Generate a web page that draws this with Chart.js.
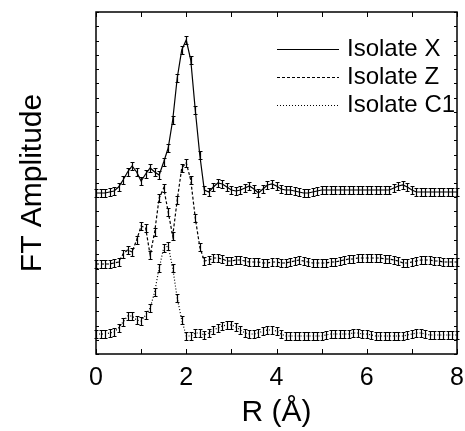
<!DOCTYPE html>
<html>
<head>
<meta charset="utf-8">
<script src="https://cdn.jsdelivr.net/npm/chart.js@4.4.0/dist/chart.umd.min.js"></script>
<style>
body { margin: 0; background: #fff; }
</style>
</head>
<body>
<canvas id="ftChart" width="465" height="431"></canvas>
<script>
// R grid (Å)
const rValues = [
    0.0, 0.1, 0.2, 0.3, 0.4, 0.5, 0.6, 0.7, 0.8, 0.9,
    1.0, 1.1, 1.2, 1.3, 1.4, 1.5, 1.6, 1.7, 1.8, 1.9,
    2.0, 2.1, 2.2, 2.3, 2.4, 2.5, 2.6, 2.7, 2.8, 2.9,
    3.0, 3.1, 3.2, 3.3, 3.4, 3.5, 3.6, 3.7, 3.8, 3.9,
    4.0, 4.1, 4.2, 4.3, 4.4, 4.5, 4.6, 4.7, 4.8, 4.9,
    5.0, 5.1, 5.2, 5.3, 5.4, 5.5, 5.6, 5.7, 5.8, 5.9,
    6.0, 6.1, 6.2, 6.3, 6.4, 6.5, 6.6, 6.7, 6.8, 6.9,
    7.0, 7.1, 7.2, 7.3, 7.4, 7.5, 7.6, 7.7, 7.8, 7.9,
    8.0
];

// FT amplitude (arbitrary units, curves stacked with offsets)
const isolateX = [
    161, 161, 161, 162, 163, 167, 174, 182, 188, 182,
    173, 180, 186, 182, 179, 192, 206, 234, 276, 304,
    314, 294, 244, 199, 164, 162, 167, 171, 170, 167,
    164, 163, 164, 166, 168, 165, 161, 165, 169, 170,
    168, 165, 164, 164, 163, 162, 161, 161, 162, 163,
    164, 164, 164, 164, 164, 164, 164, 164, 164, 164,
    164, 164, 164, 164, 164, 164, 166, 168, 169, 167,
    164, 162, 162, 162, 162, 162, 162, 162, 162, 162,
    162
];
const isolateZ = [
    90, 90, 90, 90, 91, 92, 100, 104, 102, 114,
    128, 126, 99, 122, 156, 166, 142, 118, 154, 186,
    191, 174, 136, 107, 93, 94, 96, 96, 95, 93,
    93, 94, 94, 93, 92, 92, 92, 91, 91, 92,
    92, 91, 91, 92, 93, 94, 93, 92, 91, 91,
    91, 91, 92, 92, 93, 94, 95, 95, 96, 96,
    96, 96, 96, 96, 95, 95, 94, 93, 91, 91,
    92, 93, 94, 94, 94, 93, 93, 92, 92, 92,
    92
];
const isolateC1 = [
    20, 20, 20, 21, 22, 26, 32, 38, 38, 34,
    33, 39, 46, 62, 86, 106, 108, 86, 56, 34,
    18, 18, 21, 21, 19, 21, 24, 26, 28, 29,
    29, 27, 24, 21, 20, 20, 21, 23, 24, 24,
    23, 20, 18, 18, 18, 18, 18, 18, 18, 18,
    18, 19, 20, 20, 20, 20, 20, 21, 21, 20,
    20, 19, 18, 18, 18, 18, 18, 18, 18, 19,
    20, 21, 21, 20, 19, 19, 19, 19, 19, 19,
    19
];
const seriesErrors = [4, 4, 4];
const seriesNames = ['Isolate X', 'Isolate Z', 'Isolate C1'];
const xLabelTicks = [0, 2, 4, 6, 8];

const FONT = "'Liberation Sans', Arial, sans-serif";
Chart.defaults.font.family = FONT;
Chart.defaults.color = '#000';

function toPoints(values) {
    return rValues.map((r, i) => ({ x: r, y: values[i] }));
}

// error bars drawn from the data through the y scale
const errorBars = {
    id: 'errorBars',
    afterDatasetsDraw(chart) {
        const ctx = chart.ctx;
        const y = chart.scales.y;
        ctx.save();
        ctx.strokeStyle = '#000';
        ctx.lineWidth = 1.2;
        ctx.setLineDash([]);
        chart.data.datasets.forEach((ds, i) => {
            const meta = chart.getDatasetMeta(i);
            const err = seriesErrors[i];
            ctx.beginPath();
            meta.data.forEach((pt, j) => {
                const v = ds.data[j].y;
                const top = Math.round(y.getPixelForValue(v + err)) + 0.5;
                const bot = Math.round(y.getPixelForValue(v - err)) + 0.5;
                const px = Math.round(pt.x) + 0.5;
                ctx.moveTo(px, top);
                ctx.lineTo(px, bot);
                ctx.moveTo(px - 2, top);
                ctx.lineTo(px + 2, top);
                ctx.moveTo(px - 2, bot);
                ctx.lineTo(px + 2, bot);
            });
            ctx.stroke();
        });
        ctx.restore();
    }
};

// box frame with inward ticks on all four sides
const frameTicks = {
    id: 'frameTicks',
    afterDraw(chart) {
        const { ctx, chartArea: a, scales: { x, y } } = chart;
        ctx.save();
        ctx.strokeStyle = '#000';
        ctx.lineWidth = 1.5;
        ctx.strokeRect(a.left, a.top, a.right - a.left, a.bottom - a.top);
        ctx.lineWidth = 1;
        ctx.beginPath();
        x.ticks.forEach(t => {
            const px = Math.round(x.getPixelForValue(t.value)) + 0.5;
            ctx.moveTo(px, a.bottom);
            ctx.lineTo(px, a.bottom - 5);
            ctx.moveTo(px, a.top);
            ctx.lineTo(px, a.top + 5);
        });
        y.ticks.forEach(t => {
            const py = Math.round(y.getPixelForValue(t.value)) + 0.5;
            ctx.moveTo(a.left, py);
            ctx.lineTo(a.left + 3, py);
            ctx.moveTo(a.right, py);
            ctx.lineTo(a.right - 3, py);
        });
        ctx.stroke();
        ctx.restore();
    }
};

// legend with line samples, inside the plot at top right
const lineLegend = {
    id: 'lineLegend',
    afterDraw(chart) {
        const { ctx, chartArea: a } = chart;
        ctx.save();
        ctx.font = '24px ' + FONT;
        ctx.textBaseline = 'middle';
        ctx.fillStyle = '#000';
        chart.data.datasets.forEach((ds, i) => {
            const ly = a.top + 37 + i * 28;
            ctx.strokeStyle = '#000';
            ctx.lineWidth = 1;
            ctx.setLineDash(ds.borderDash || []);
            ctx.beginPath();
            ctx.moveTo(a.left + 181, ly + 0.5);
            ctx.lineTo(a.left + 243, ly + 0.5);
            ctx.stroke();
            ctx.fillText(ds.label, a.left + 251, ly);
        });
        ctx.restore();
    }
};

function chart() {
    const ctx = document.getElementById('ftChart').getContext('2d');
    return new Chart(ctx, {
        type: 'line',
        data: {
            datasets: [
                { label: seriesNames[0], data: toPoints(isolateX), borderDash: [] },
                { label: seriesNames[1], data: toPoints(isolateZ), borderDash: [3, 2] },
                { label: seriesNames[2], data: toPoints(isolateC1), borderDash: [1, 2] }
            ].map(ds => Object.assign(ds, {
                borderColor: '#000',
                borderWidth: 1.2,
                pointRadius: 0,
                tension: 0,
                fill: false
            }))
        },
        options: {
            responsive: false,
            animation: false,
            layout: { padding: { top: 12, right: 8, bottom: 0, left: 0 } },
            plugins: {
                legend: { display: false },
                tooltip: { enabled: false }
            },
            scales: {
                x: {
                    type: 'linear',
                    min: 0,
                    max: 8,
                    grid: { display: false },
                    border: { display: false },
                    ticks: {
                        stepSize: 1,
                        padding: 1,
                        font: { size: 25 },
                        color: '#000',
                        maxRotation: 0,
                        callback: v => xLabelTicks.includes(v) ? String(v) : ''
                    },
                    title: {
                        display: true,
                        text: 'R (Å)',
                        font: { size: 30, lineHeight: 1 },
                        color: '#000',
                        padding: { top: 0, bottom: 3 }
                    },
                    afterFit: s => { s.height = 77; }
                },
                y: {
                    min: 0,
                    max: 342,
                    grid: { display: false },
                    border: { display: false },
                    ticks: { display: false, stepSize: 14.25 },
                    title: {
                        display: true,
                        text: 'FT Amplitude',
                        font: { size: 30, lineHeight: 1 },
                        color: '#000',
                        padding: { top: 18, bottom: 0 }
                    },
                    afterFit: s => { s.width = 96; }
                }
            }
        },
        plugins: [errorBars, frameTicks, lineLegend]
    });
}

window.onload = function () {
    chart();
};
</script>
</body>
</html>
